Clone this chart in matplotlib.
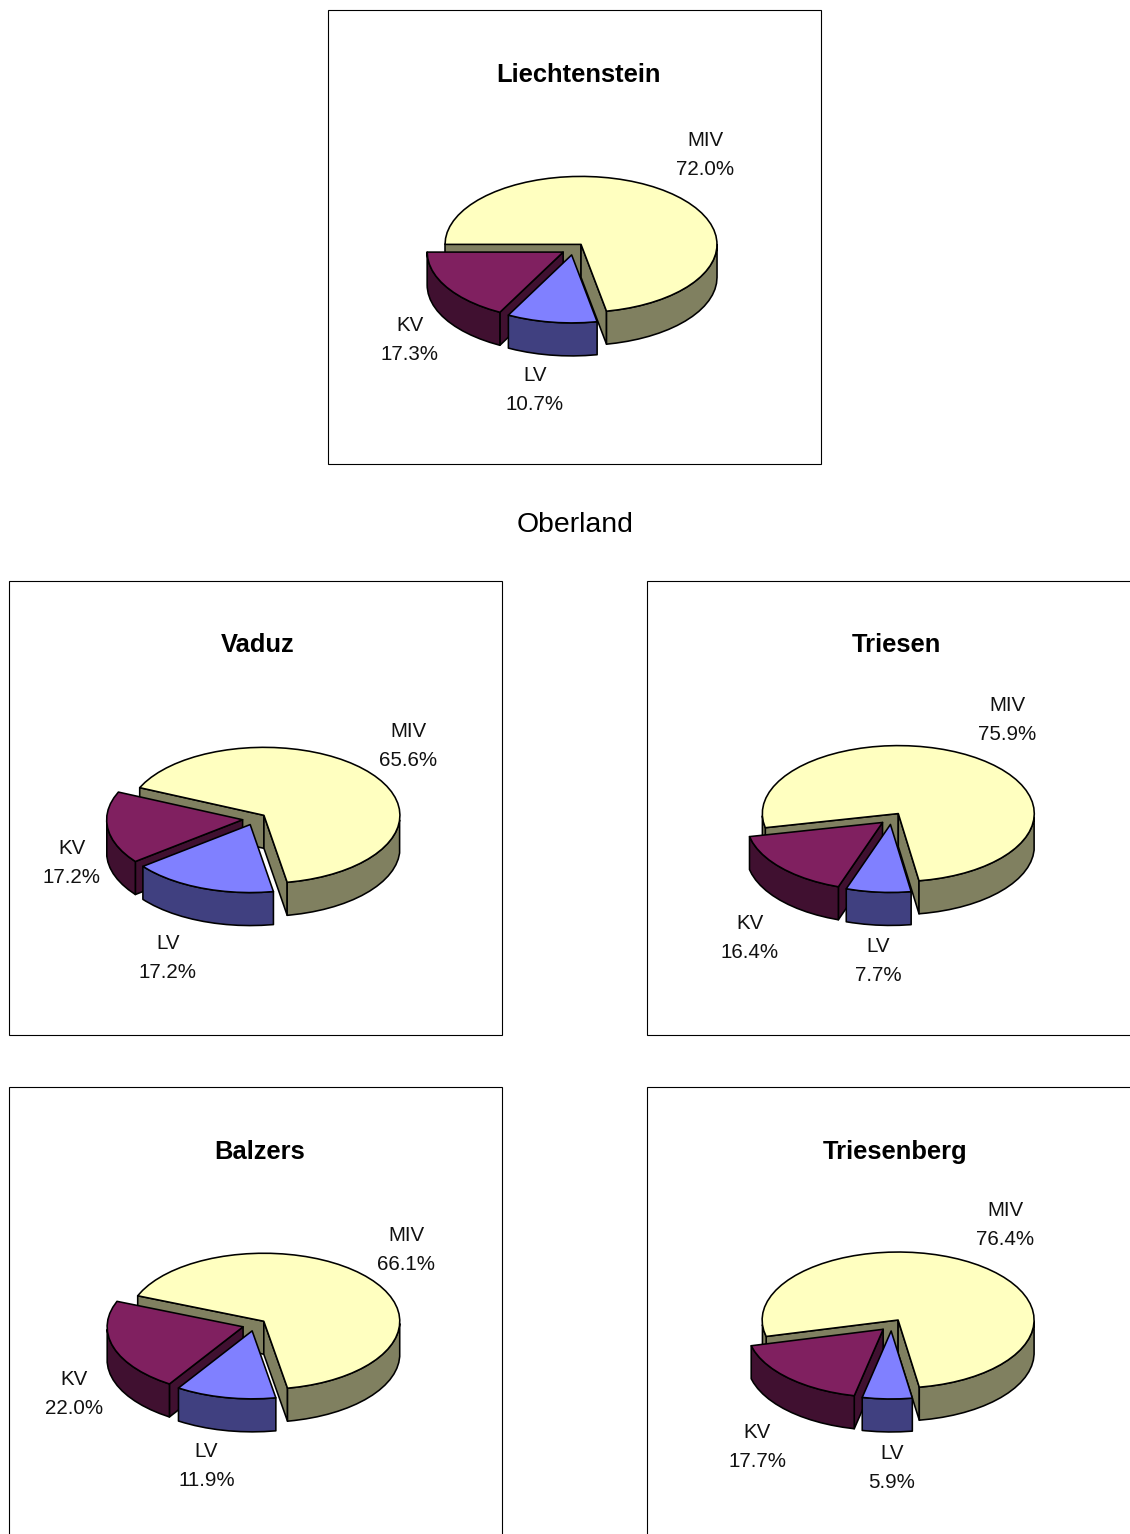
import numpy as np
import matplotlib
matplotlib.use('Agg')
import matplotlib.pyplot as plt
from matplotlib.patches import Polygon, Rectangle

plt.rcParams['font.family'] = ['Liberation Sans', 'DejaVu Sans']

# data
categories = ['MIV', 'LV', 'KV']
liechtenstein = [72.0, 10.7, 17.3]
vaduz = [65.6, 17.2, 17.2]
triesen = [75.9, 7.7, 16.4]
balzers = [66.1, 11.9, 22.0]
triesenberg = [76.4, 5.9, 17.7]

top_colors = ['#FFFFC0', '#8080FF', '#802060']
side_colors = ['#808060', '#404080', '#401030']

RX, RY, DEPTH, EXPLODE = 136, 68, 33, 0.088

# title, values, frame (x, y), pie centre, start angle, title pos, label positions
panels = [
    ('Liechtenstein', liechtenstein, (328, 10), (573.4, 249), 270, (578.5, 75.5),
     [(705.5, 155), (535, 390), (410, 340)]),
    ('Vaduz', vaduz, (9, 581), (254.5, 819), 294, (257.5, 645),
     [(408.5, 746), (168, 958), (71.5, 863)]),
    ('Triesen', triesen, (647, 581), (891.5, 818.5), 258, (896.5, 645),
     [(1007.5, 720), (878, 961), (749.5, 938)]),
    ('Balzers', balzers, (9, 1087), (254.5, 1325), 292, (259.5, 1152),
     [(406.5, 1250), (206.5, 1466), (74.5, 1394)]),
    ('Triesenberg', triesenberg, (647, 1087), (891.5, 1325), 256, (895.5, 1152),
     [(1005.5, 1225), (892, 1468), (757, 1447)]),
]


def point(cx, cy, clock):
    a = np.radians(clock)
    return cx + RX * np.sin(a), cy - RY * np.cos(a)


def add_poly(ax, xs, ys, color, z):
    ax.add_patch(Polygon(np.column_stack([xs, ys]), closed=True, facecolor=color,
                         edgecolor='black', linewidth=1.15, joinstyle='round', zorder=z))


def draw_slice(ax, cx, cy, start, end, top, side, z):
    mid = np.radians((start + end) / 2)
    ax_x = cx + EXPLODE * RX * np.sin(mid)
    ax_y = cy - EXPLODE * RY * np.cos(mid)
    n = max(int((end - start) / 5), 2)
    th = np.linspace(start, end, n + 1)
    xs, ys = point(ax_x, ax_y, th)

    # cut faces that look towards the viewer
    if -np.sin(np.radians(start)) > 0:
        add_poly(ax, [ax_x, xs[0], xs[0], ax_x], [ax_y, ys[0], ys[0] + DEPTH, ax_y + DEPTH], side, z)
    if np.sin(np.radians(end)) > 0:
        add_poly(ax, [ax_x, xs[-1], xs[-1], ax_x], [ax_y, ys[-1], ys[-1] + DEPTH, ax_y + DEPTH], side, z)

    # outer rim, only the front half of the ellipse
    fine = np.arange(start, end + 0.01, 5.0)
    fine = np.append(fine[fine < end], end)
    front = (fine % 360 >= 90) & (fine % 360 <= 270)
    idx = np.where(front)[0]
    if len(idx) > 1:
        for run in np.split(idx, np.where(np.diff(idx) > 1)[0] + 1):
            if len(run) < 2:
                continue
            rx, ry = point(ax_x, ax_y, fine[run])
            add_poly(ax, np.r_[rx, rx[::-1]], np.r_[ry, ry[::-1] + DEPTH], side, z)

    add_poly(ax, np.r_[ax_x, xs], np.r_[ax_y, ys], top, z)
    return ax_x, ax_y


fig = plt.figure(figsize=(11.30, 15.34), dpi=100)
ax = fig.add_axes([0, 0, 1, 1])
ax.set_xlim(0, 1130)
ax.set_ylim(1534, 0)
ax.axis('off')

for title, values, frame, centre, start, title_pos, label_pos in panels:
    ax.add_patch(Rectangle(frame, 493, 454, facecolor='white', edgecolor='black',
                           linewidth=0.8, zorder=1))
    ax.text(title_pos[0], title_pos[1], title, fontsize=18.4, fontweight='bold',
            ha='center', va='center', zorder=5)

    # slice angles run clockwise from the start angle
    angles = np.array(values) * 3.6
    edges = start + np.r_[0, np.cumsum(angles)]
    mids = (edges[:-1] + edges[1:]) / 2
    apex_y = centre[1] - EXPLODE * RY * np.cos(np.radians(mids))
    order = list(np.argsort(apex_y))
    for i in order:
        draw_slice(ax, centre[0], centre[1], edges[i], edges[i + 1],
                   top_colors[i], side_colors[i], 2 + 0.1 * order.index(i))

    for name, val, pos in zip(categories, values, label_pos):
        ax.text(pos[0], pos[1], '%s\n%.1f%%' % (name, val), fontsize=14.8, ha='center',
                va='center', linespacing=1.62, color='#111111', zorder=5)

ax.text(575.5, 524.5, 'Oberland', fontsize=20.4, ha='center', va='center', zorder=5)

fig.savefig('out.png', dpi=100)
